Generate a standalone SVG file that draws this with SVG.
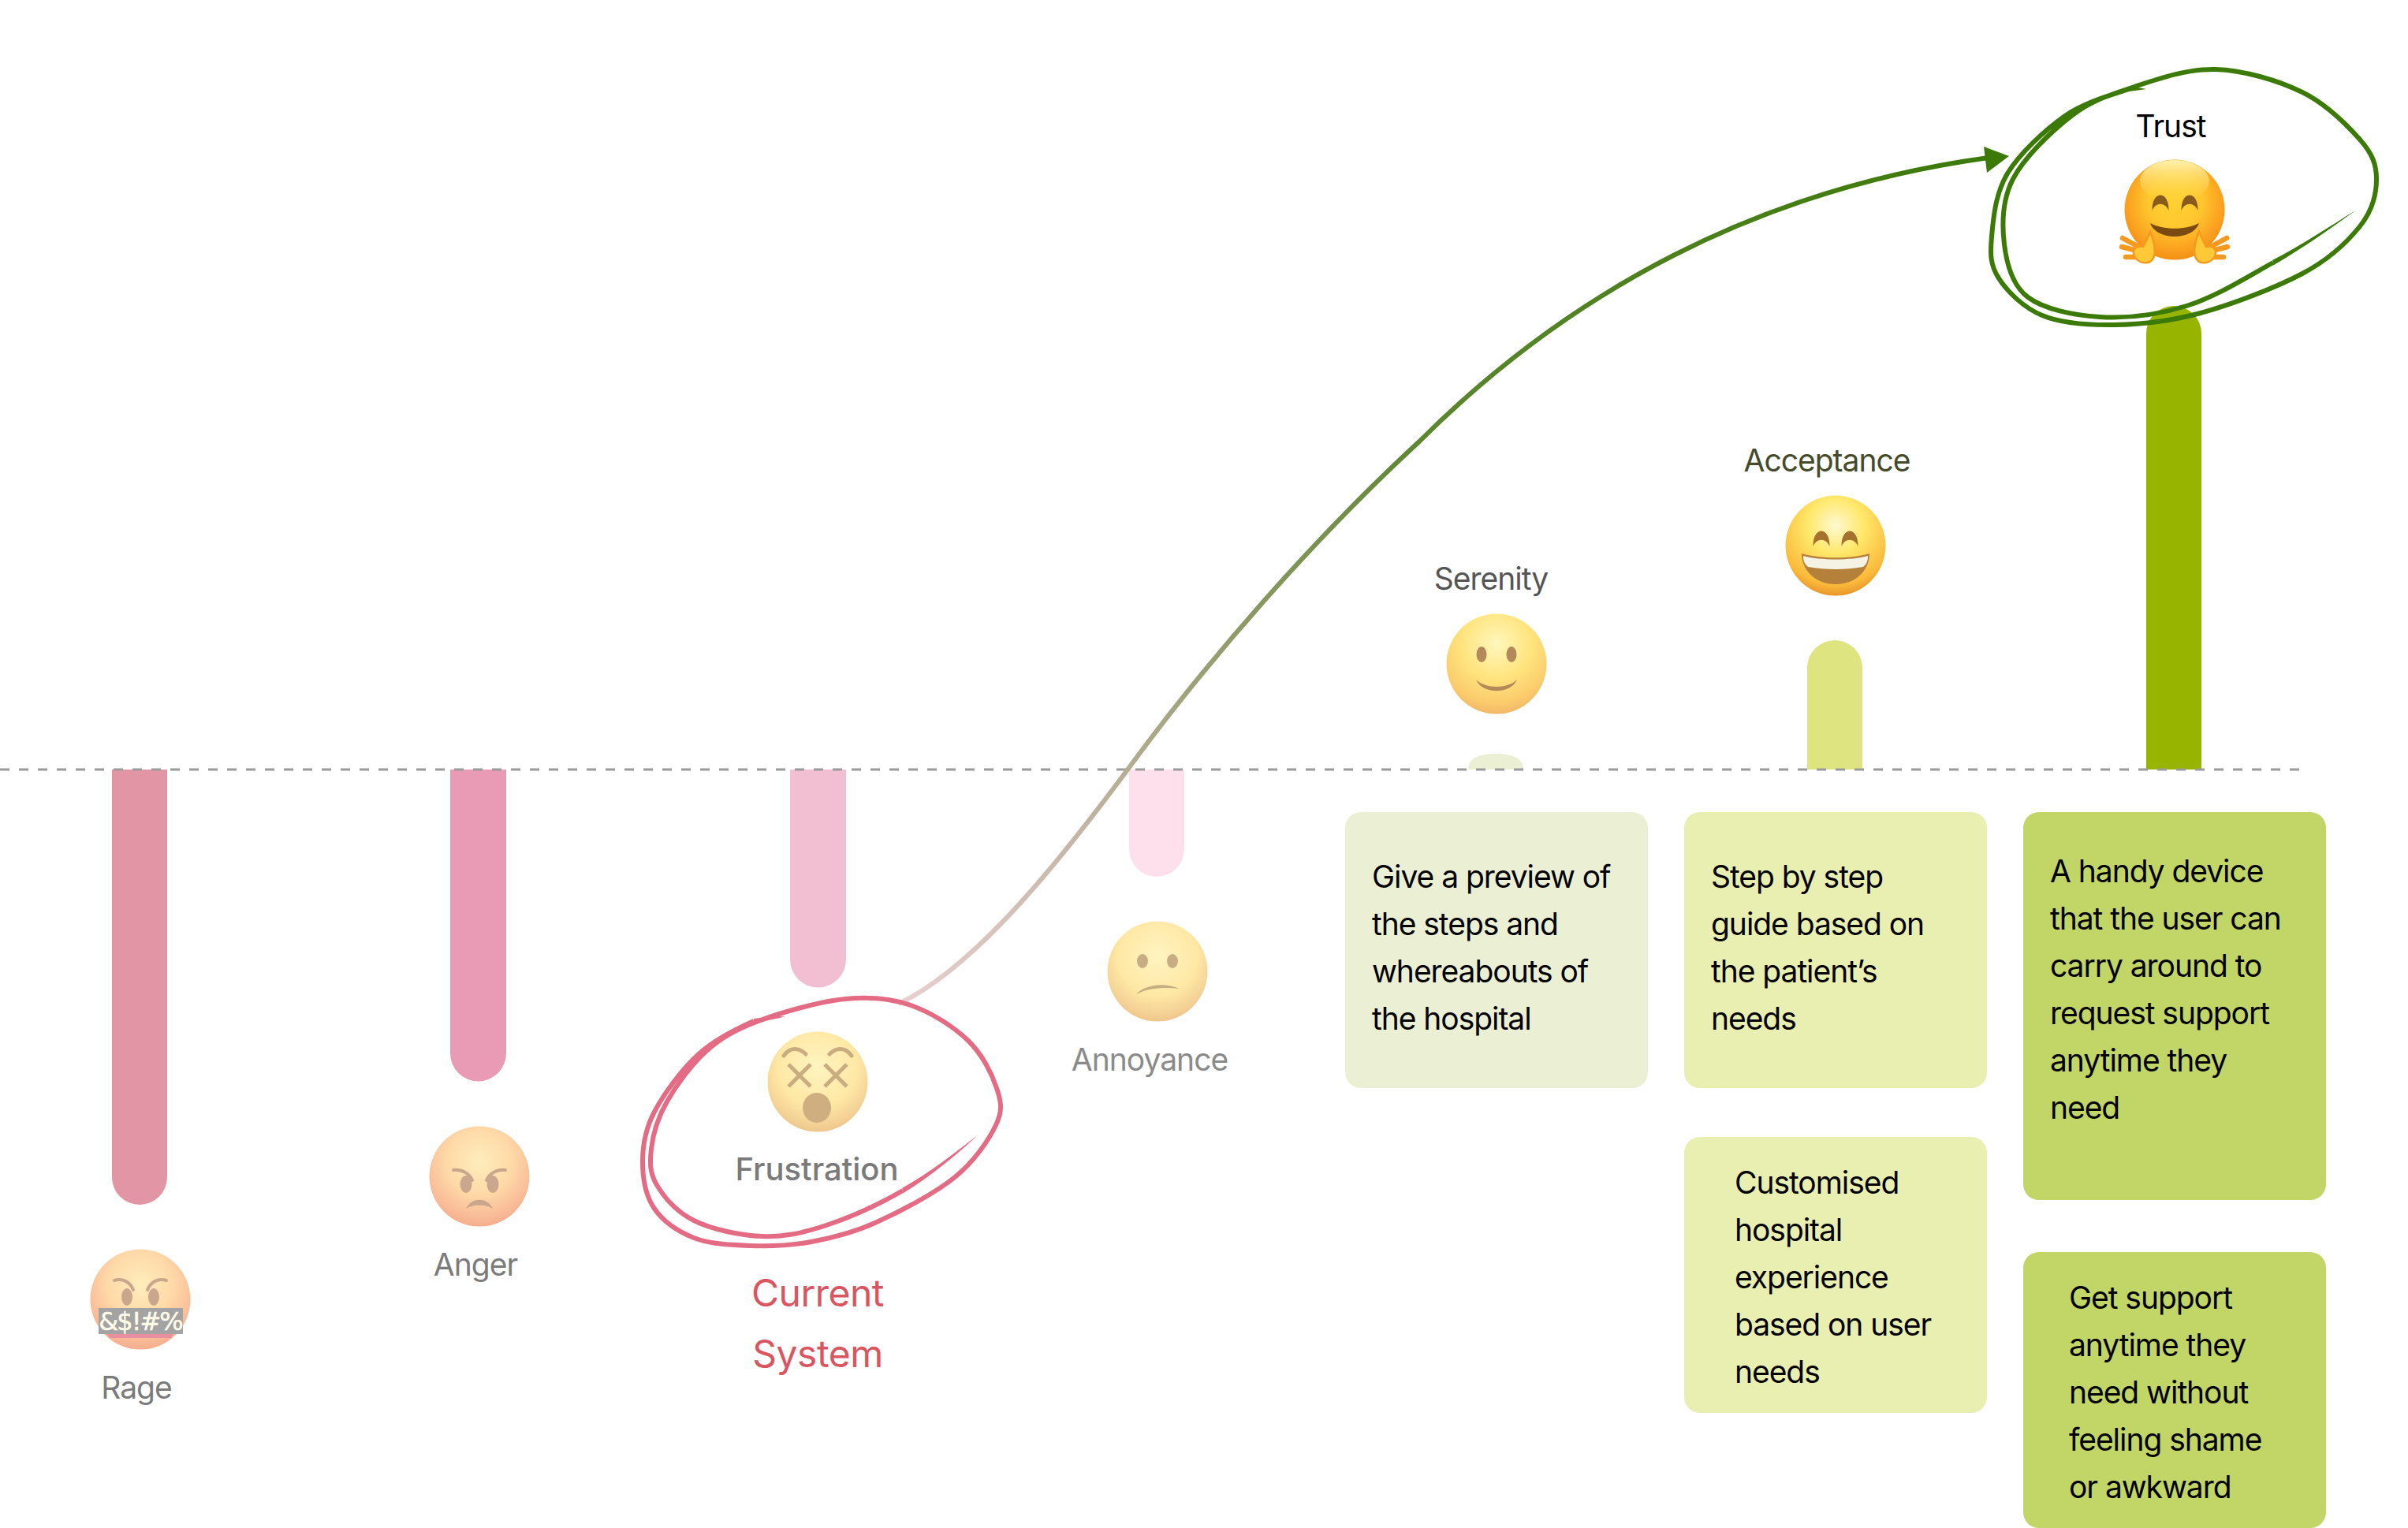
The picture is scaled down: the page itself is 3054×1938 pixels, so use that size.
<svg xmlns="http://www.w3.org/2000/svg" width="3054" height="1938" viewBox="0 0 3054 1938">
<style>
text{font-family:"Inter","Liberation Sans",sans-serif}
.lbl{font-size:39px;font-weight:400;text-anchor:middle;letter-spacing:-1px}
.body{font-size:39px;font-weight:400;fill:#000;letter-spacing:-1.05px}
.cur{font-size:48px;font-weight:400;fill:#D9555F;text-anchor:middle;letter-spacing:-.5px}
</style>
<defs>
<radialGradient id="fRed" cx="50%" cy="35%" r="65%"><stop offset="0" stop-color="#FFEDBC"/><stop offset=".5" stop-color="#FFD9A8"/><stop offset=".85" stop-color="#F9BC98"/><stop offset="1" stop-color="#F6AE8E"/></radialGradient>
<radialGradient id="fPale" cx="50%" cy="35%" r="65%"><stop offset="0" stop-color="#FFF4C0"/><stop offset=".6" stop-color="#FFE8A5"/><stop offset=".9" stop-color="#F3D095"/><stop offset="1" stop-color="#EEC68C"/></radialGradient>
<radialGradient id="fSer" cx="50%" cy="30%" r="70%"><stop offset="0" stop-color="#FFF7BC"/><stop offset=".5" stop-color="#FFE47E"/><stop offset=".85" stop-color="#FBCB6C"/><stop offset="1" stop-color="#F3B868"/></radialGradient>
<radialGradient id="fAcc" cx="50%" cy="30%" r="70%"><stop offset="0" stop-color="#FFF9D0"/><stop offset=".4" stop-color="#FFE86A"/><stop offset=".85" stop-color="#FBB93A"/><stop offset="1" stop-color="#E8962A"/></radialGradient>
<radialGradient id="fTru" cx="50%" cy="42%" r="60%"><stop offset="0" stop-color="#FFD133"/><stop offset=".45" stop-color="#FFC62E"/><stop offset=".8" stop-color="#FBA01F"/><stop offset="1" stop-color="#F28C12"/></radialGradient>
<linearGradient id="fTruTop" x1="0" y1="0" x2="0" y2="1"><stop offset="0" stop-color="#FFF6B8" stop-opacity=".95"/><stop offset="1" stop-color="#FFE050" stop-opacity="0"/></linearGradient>
<linearGradient id="conn" gradientUnits="userSpaceOnUse" x1="1140" y1="1273" x2="2532" y2="199"><stop offset="0" stop-color="#E8D0D0"/><stop offset=".18" stop-color="#C4B5A6"/><stop offset=".36" stop-color="#8E9A68"/><stop offset=".55" stop-color="#5C8630"/><stop offset="1" stop-color="#3B7A07"/></linearGradient>
<g id="smileEye"><path d="M-10.500,11 C-11,-15 11,-15 10.500,11 C6,0 -6,0 -10.500,11 Z"/></g>
<g id="tHand">
<path d="M-40,50 L-66,36 M-40,54 L-67,47 M-40,60 L-62,60" fill="none" stroke="#F59A1E" stroke-width="6.500" stroke-linecap="round"/>
<path d="M-31,28 C-25,42 -23,56 -28,63 C-33,70 -44,68 -50,61 C-55,52 -50,45 -40,47 C-37,42 -34,35 -31,28Z" fill="#FFC937" stroke="#F59A1E" stroke-width="2.500"/>
</g>
</defs>
<rect width="3054" height="1938" fill="#fff"/>

<g id="bar-rage"><path d="M142,976H212V1493a35,35 0 0 1 -70,0Z" fill="#E295A5"/></g>
<g id="bar-anger"><path d="M571,976H642V1336a35.500,35.500 0 0 1 -71,0Z" fill="#E99AB4"/></g>
<g id="bar-frustration"><path d="M1002,976H1073V1217a35.500,35.500 0 0 1 -71,0Z" fill="#F1BED2"/></g>
<g id="bar-annoyance"><path d="M1432,976H1502V1077a35,35 0 0 1 -70,0Z" fill="#FDE0EB"/></g>
<g id="bar-serenity"><path d="M1862,976C1862,962 1875,956 1897,956C1919,956 1932,962 1932,976Z" fill="#EBF0D5"/></g>
<g id="bar-acceptance"><path d="M2292,976V847a35,35 0 0 1 70,0V976Z" fill="#DEE480"/></g>
<g id="bar-trust"><path d="M2722,976V423a35,35 0 0 1 70,0V976Z" fill="#97B500"/></g>

<g id="baseline"><line x1="0" y1="976" x2="2916" y2="976" stroke="#9C9C9C" stroke-width="3" stroke-dasharray="12 12"/></g>

<g id="connectors">
<path d="M1140,1273 C1240,1225 1350,1085 1442,960 C1540,828 1670,680 1800,560 C1990,370 2230,240 2522,200" fill="none" stroke="url(#conn)" stroke-width="6"/>
<path d="M2548,198 L2516,186 L2520,219 Z" fill="#3B7A07"/>
</g>

<g id="node-rage">
<g transform="translate(178,1648)">
<circle r="63.500" fill="url(#fRed)"/>
<g fill="#C9A68C"><ellipse cx="-17" cy="-3" rx="7" ry="11"/><ellipse cx="17" cy="-3" rx="7" ry="11"/></g>
<path d="M-33,-24 C-22,-27 -13,-22 -9,-12 M33,-24 C22,-27 13,-22 9,-12" fill="none" stroke="#C9A68C" stroke-width="4" stroke-linecap="round"/>
<path d="M-42,44 H42 L39,49 H-39 Z" fill="#E88FA0"/>
<rect x="-53" y="11" width="107" height="33" fill="#A3A3A3"/>
<text x="0" y="39" font-size="32" fill="#FFFBE8" stroke="#FFFBE8" stroke-width=".5" text-anchor="middle" letter-spacing="-2" style="font-family:'DejaVu Sans',sans-serif">&amp;$!#%</text>
</g>
<text class="lbl" x="173" y="1774" fill="#7B7B7B">Rage</text>
</g>

<g id="node-anger">
<g transform="translate(608,1492)">
<circle r="63.500" fill="url(#fRed)"/>
<g fill="#C9A68C"><ellipse cx="-17" cy="10" rx="7.500" ry="11"/><ellipse cx="17" cy="10" rx="7.500" ry="11"/></g>
<path d="M-33,-8 C-22,-9 -13,-4 -9,5 M33,-8 C22,-9 13,-4 9,5" fill="none" stroke="#C9A68C" stroke-width="4" stroke-linecap="round"/>
<path d="M-17,41 C-10,26 10,26 17,41 C8,35 -8,35 -17,41 Z" fill="#C9A68C"/>
</g>
<text class="lbl" x="603" y="1618" fill="#7B7B7B">Anger</text>
</g>

<g id="node-frustration">
<g transform="translate(1037,1372)">
<circle r="63.500" fill="url(#fPale)"/>
<path d="M-43,-33 C-35,-44 -24,-44 -15,-35 M15,-35 C24,-44 35,-44 43,-33" fill="none" stroke="#C9AC80" stroke-width="5" stroke-linecap="round"/>
<path d="M-37,-22 L-9,6 M-9,-22 L-37,6 M9,-22 L37,6 M37,-22 L9,6" stroke="#C9AC80" stroke-width="5" fill="none"/>
<ellipse cx="-1" cy="33" rx="18" ry="19" fill="#CFAF80"/>
</g>
<text class="lbl" x="1036" y="1497" fill="#7A7A7A" style="font-weight:500;font-size:40px;letter-spacing:0">Frustration</text>
</g>

<g id="node-annoyance">
<g transform="translate(1468,1232)">
<circle r="63.500" fill="url(#fPale)"/>
<g fill="#C7AD82"><ellipse cx="-19" cy="-13" rx="7" ry="9"/><ellipse cx="19" cy="-13" rx="7" ry="9"/></g>
<path d="M-27,29 C-15,16 10,14 28,22 C10,20 -10,20 -27,29 Z" fill="#C7AD82"/>
</g>
<text class="lbl" x="1458" y="1358" fill="#8A8A8A">Annoyance</text>
</g>

<g id="node-serenity">
<g transform="translate(1898,842)">
<circle r="63.500" fill="url(#fSer)"/>
<g fill="#B3895A"><ellipse cx="-19" cy="-12" rx="6.500" ry="10"/><ellipse cx="19" cy="-12" rx="6.500" ry="10"/></g>
<path d="M-26,20 C-14,32 14,32 26,20 C18,39 -18,39 -26,20 Z" fill="#B3895A"/>
</g>
<text class="lbl" x="1891" y="748" fill="#555555">Serenity</text>
</g>

<g id="node-acceptance">
<g transform="translate(2328,692)">
<circle r="63.500" fill="url(#fAcc)"/>
<g fill="#A4712F"><use href="#smileEye" x="-18" y="-10"/><use href="#smileEye" x="18" y="-10"/></g>
<path d="M-43,10 C-20,17 20,17 43,10 C43,32 25,49 0,49 C-25,49 -43,32 -43,10 Z" fill="#B5803A"/>
<path d="M-41,13 C-20,19 20,19 41,13 C41,20 39,24 35,27 C12,31 -12,31 -35,27 C-39,24 -41,20 -41,13 Z" fill="#F4F3E4"/>
</g>
<text class="lbl" x="2317" y="598" fill="#454A2A">Acceptance</text>
</g>

<g id="node-trust">
<g transform="translate(2758,266)">
<circle r="63.500" fill="url(#fTru)"/>
<ellipse cx="0" cy="-36" rx="44" ry="27" fill="url(#fTruTop)"/>
<g fill="#8A5A1C"><use href="#smileEye" x="-18" y="-10"/><use href="#smileEye" x="19" y="-10"/></g>
<path d="M-31,17 C-15,26 15,26 31,17 C27,29 12,34 0,34 C-12,34 -27,29 -31,17 Z" fill="#7A4A10"/>
<use href="#tHand"/>
<use href="#tHand" transform="scale(-1,1)"/>
</g>
<text class="lbl" x="2753" y="174" fill="#000">Trust</text>
</g>

<g id="ring-frustration">
<path d="M1145,1510 C1112.300,1529 1075,1545.300 1045,1555 S993.500,1569 966,1568 S902,1559 880,1548 S842,1518 833,1503 S824,1475 826,1457 S834,1418 846,1397 S877,1350 896,1333 S933,1306 962,1295 S1040,1270 1072,1267 S1129,1266 1155,1275 S1210,1302.500 1228,1320 S1258,1362 1264,1380 S1272,1408 1263,1427 S1236,1472.500 1211,1493 S1142,1536.300 1112,1550 S1056,1570 1029,1575 S977,1581 952,1580 S900,1578 880,1570 S841,1549 830,1533 S815,1493.500 815,1473 S818,1433 830,1410 S865,1356 886,1337 S938,1303 956,1295" fill="none" stroke="#E36C84" stroke-width="6"/>
<path d="M1241,1439 C1210,1463 1178,1488 1144,1507 L1146,1513 C1180,1492 1212,1466 1241,1439 Z M956,1292 C970,1290 984,1288 996,1289.500 C984,1292 970,1295 956,1298 Z" fill="#E36C84"/>
</g>

<g id="ring-trust">
<path d="M2883,333 C2847,353 2810,376.500 2773,388 S2696.500,404 2663,402 S2592,392 2572,377 S2545,335 2542,310 S2539,254 2553,227 S2601,167 2627,147 S2677,120 2707,110 S2774.500,87 2810,88 S2889.500,102 2920,117 S2977,159 2993,177 S3014,209 3014,227 S3009,267 2993,287 S2954,329 2920,347 S2831,386 2791,397 S2714.500,411.500 2681,412 S2614,410 2590,400 S2546,370 2535,353 S2524,322 2526,300 S2530.500,245.500 2546,220 S2593.500,165 2619,147 S2683,119 2700,113" fill="none" stroke="#3B7A07" stroke-width="6"/>
<path d="M2988,266.500 C2955,287 2919,311 2882,330 L2884,336 C2920,315 2956,290 2988,266.500 Z M2700,110 C2708,110.500 2716,111.500 2722,113 C2715,114 2707,115 2700,116 Z" fill="#3B7A07"/>
</g>

<g id="label-current"><text class="cur" x="1037" y="1657">Current</text><text class="cur" x="1037" y="1734">System</text></g>

<g id="box-serenity"><rect x="1706" y="1030" width="384" height="350" rx="20" fill="#EBF0D5"/>
<text class="body"><tspan x="1740" y="1126">Give a preview of</tspan><tspan x="1740" y="1186">the steps and</tspan><tspan x="1740" y="1246">whereabouts of</tspan><tspan x="1740" y="1306">the hospital</tspan></text></g>
<g id="box-acceptance-1"><rect x="2136" y="1030" width="384" height="350" rx="20" fill="#E9EFB0"/>
<text class="body"><tspan x="2170" y="1126">Step by step</tspan><tspan x="2170" y="1186">guide based on</tspan><tspan x="2170" y="1246">the patient’s</tspan><tspan x="2170" y="1306">needs</tspan></text></g>
<g id="box-acceptance-2"><rect x="2136" y="1442" width="384" height="350" rx="20" fill="#E9EFB0"/>
<text class="body"><tspan x="2200" y="1514">Customised</tspan><tspan x="2200" y="1574">hospital</tspan><tspan x="2200" y="1634">experience</tspan><tspan x="2200" y="1694">based on user</tspan><tspan x="2200" y="1754">needs</tspan></text></g>
<g id="box-trust-1"><rect x="2566" y="1030" width="384" height="492" rx="20" fill="#C2D567"/>
<text class="body"><tspan x="2600" y="1119">A handy device</tspan><tspan x="2600" y="1179">that the user can</tspan><tspan x="2600" y="1239">carry around to</tspan><tspan x="2600" y="1299">request support</tspan><tspan x="2600" y="1359">anytime they</tspan><tspan x="2600" y="1419">need</tspan></text></g>
<g id="box-trust-2"><rect x="2566" y="1588" width="384" height="350" rx="20" fill="#C2D567"/>
<text class="body"><tspan x="2624" y="1660">Get support</tspan><tspan x="2624" y="1720">anytime they</tspan><tspan x="2624" y="1780">need without</tspan><tspan x="2624" y="1840">feeling shame</tspan><tspan x="2624" y="1900">or awkward</tspan></text></g>
</svg>
